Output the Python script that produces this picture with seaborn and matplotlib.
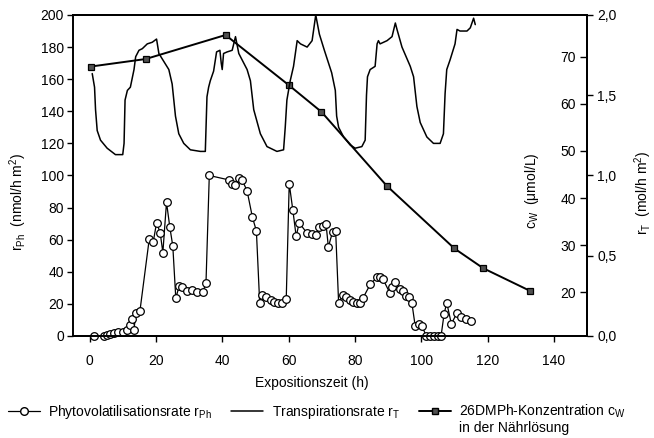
import matplotlib
matplotlib.use("Agg")
import seaborn as sns
import matplotlib.pyplot as plt
from matplotlib.lines import Line2D

# Phytovolatilisationsrate r_Ph (nmol/h m2)
t_ph = [1.2, 4.3, 5.3, 6.3, 7.3, 8.5, 10.0, 11.4, 12.1, 12.9, 13.4, 13.9, 15.2, 18.0, 19.2,
        20.2, 21.3, 22.1, 23.2, 24.2, 25.1, 26.0, 27.0, 28.0, 29.3, 30.9, 32.4, 34.1, 35.1,
        36.1, 42.1, 43.0, 44.0, 45.0, 46.0, 47.5, 49.1, 50.3, 51.3, 52.0, 53.2, 54.6, 55.7,
        56.8, 58.0, 59.3, 60.2, 61.3, 62.3, 63.2, 65.6, 67.0, 68.4, 69.2, 70.3, 71.3, 72.0,
        73.3, 74.2, 75.1, 76.3, 77.4, 78.4, 79.4, 80.6, 81.6, 82.4, 84.7, 86.7, 87.5, 88.5,
        90.5, 91.2, 92.2, 93.5, 94.6, 95.5, 96.4, 97.2, 98.2, 99.2, 100.2, 101.5, 102.7,
        103.9, 105.0, 106.0, 106.9, 107.7, 109.1, 110.7, 112.0, 113.6, 115.1]
r_ph = [0.3, 0.0, 0.8, 1.5, 2.0, 2.2, 2.5, 4.0, 7.0, 10.5, 3.5, 14.5, 15.8, 60.5, 58.5,
        70.6, 64.2, 52.0, 83.3, 67.8, 56.0, 23.5, 31.0, 30.3, 28.3, 28.8, 27.6, 27.2, 32.8,
        100.0, 97.2, 94.5, 94.0, 98.3, 97.2, 90.4, 74.0, 65.5, 20.4, 25.5, 24.5, 22.4, 21.4,
        20.4, 20.4, 22.9, 95.0, 78.3, 62.0, 70.5, 64.0, 63.5, 63.0, 67.7, 68.5, 69.8, 55.5,
        65.0, 65.6, 20.4, 25.3, 24.5, 22.4, 21.0, 20.7, 20.4, 23.5, 32.4, 36.6, 36.9, 35.3,
        27.0, 30.3, 33.4, 29.5, 27.8, 25.0, 24.3, 20.4, 6.0, 7.7, 6.2, 0.2, 0.2,
        0.2, 0.2, 0.2, 13.7, 20.7, 7.5, 14.1, 12.0, 10.4, 9.5]

# Transpirationsrate r_T (mol/h m2)
t_tr = [0.8, 1.5, 1.8, 2.3, 3.3, 5.3, 7.8, 10.0, 10.4, 10.7, 11.4, 12.3, 13.4, 13.9, 14.9,
        15.9, 17.4, 18.9, 20.2, 20.9, 22.4, 23.9, 24.9, 25.4, 25.9, 26.9, 28.4, 30.4, 33.4,
        34.9, 35.4, 35.9, 36.4, 37.4, 38.3, 39.3, 39.7, 40.0, 40.4, 41.5, 43.0, 44.0, 45.0,
        47.5, 48.5, 49.0, 49.5, 51.5, 53.5, 56.5, 58.5, 59.0, 59.5, 60.5, 61.5, 62.6, 63.6,
        65.6, 67.1, 68.2, 69.3, 70.8, 73.0, 74.1, 74.5, 75.1, 76.6, 78.6, 80.1, 82.1, 83.1,
        83.5, 83.8, 84.6, 86.1, 86.7, 87.1, 87.6, 89.7, 91.2, 92.2, 92.7, 94.2, 96.7, 97.7,
        98.7, 99.7, 101.7, 103.7, 105.7, 106.7, 107.2, 107.7, 108.7, 110.2, 110.8, 111.7,
        113.8, 114.8, 115.8, 116.3]
r_tr = [1.635, 1.55, 1.41, 1.28, 1.22, 1.17, 1.13, 1.13, 1.20, 1.47, 1.53, 1.55, 1.66, 1.74,
        1.78, 1.79, 1.82, 1.83, 1.85, 1.76, 1.71, 1.66, 1.57, 1.47, 1.37, 1.26, 1.20, 1.16,
        1.15, 1.15, 1.49, 1.55, 1.59, 1.65, 1.77, 1.78, 1.70, 1.66, 1.76, 1.77, 1.78, 1.865,
        1.76, 1.66, 1.59, 1.50, 1.41, 1.26, 1.18, 1.15, 1.16, 1.30, 1.47, 1.59, 1.68, 1.84,
        1.82, 1.80, 1.84, 2.00, 1.88, 1.78, 1.64, 1.53, 1.37, 1.30, 1.24, 1.19, 1.17, 1.18,
        1.22, 1.50, 1.615, 1.66, 1.68, 1.82, 1.84, 1.82, 1.84, 1.865, 1.95, 1.91, 1.80, 1.68,
        1.615, 1.43, 1.33, 1.24, 1.20, 1.20, 1.26, 1.51, 1.66, 1.72, 1.82, 1.91, 1.90, 1.90,
        1.92, 1.98, 1.94]

# 26DMPh-Konzentration c_W in der Naehrloesung (umol/L)
t_cw = [0.3, 16.9, 41.0, 60.0, 69.9, 89.6, 110.0, 118.7, 132.8]
c_w = [67.9, 69.5, 74.6, 64.0, 58.3, 42.6, 29.3, 25.1, 20.3]

x_ticks = [0, 20, 40, 60, 80, 100, 120, 140]
ph_ticks = list(range(0, 201, 20))
cw_ticks = [20, 30, 40, 50, 60, 70]
rt_ticks = [0.0, 0.5, 1.0, 1.5, 2.0]
rt_labels = ["0,0", "0,5", "1,0", "1,5", "2,0"]

sns.set_style("ticks")
plt.rcParams["font.family"] = ["Liberation Sans", "DejaVu Sans"]
plt.rcParams["mathtext.fontset"] = "custom"
plt.rcParams["mathtext.rm"] = "Liberation Sans"
plt.rcParams["mathtext.it"] = "Liberation Sans:italic"
plt.rcParams["axes.edgecolor"] = "black"
plt.rcParams["axes.linewidth"] = 1.2
plt.rcParams["xtick.color"] = "black"
plt.rcParams["ytick.color"] = "black"
plt.rcParams["text.color"] = "black"
plt.rcParams["axes.labelcolor"] = "black"
fs = 10

fig, ax = plt.subplots(figsize=(6.54, 4.38), dpi=100)
fig.subplots_adjust(left=0.1116, right=0.8976, top=0.9658, bottom=0.2329)
ax_c = ax.twinx()
ax_t = ax.twinx()

# r_Ph on left axis
sns.lineplot(x=t_ph, y=r_ph, ax=ax, color="black", lw=0.9, marker="o", markersize=5.5,
             markerfacecolor="white", markeredgecolor="black", markeredgewidth=0.9,
             estimator=None, sort=False, clip_on=False, zorder=3)
ax.set_xlim(-5, 150)
ax.set_ylim(0, 200)
ax.set_xticks(x_ticks)
ax.set_yticks(ph_ticks)
ax.tick_params(axis="both", labelsize=fs, direction="out", length=4, width=1)
ax.tick_params(axis="x", pad=9)
ax.tick_params(axis="y", pad=2.5)
ax.set_xlabel("Expositionszeit (h)", fontsize=fs)
ax.xaxis.set_label_coords(0.465, -0.125)
ax.set_ylabel(r"$\mathrm{r}_{\mathrm{Ph}}$  (nmol/h m$^{2}$)", fontsize=fs)
ax.yaxis.set_label_coords(-0.085, 0.417)

# transpiration on outer right axis
sns.lineplot(x=t_tr, y=r_tr, ax=ax_t, color="black", lw=1.1, estimator=None, sort=False)
ax_t.set_ylim(0, 2.0)
ax_t.set_yticks(rt_ticks)
ax_t.set_yticklabels(rt_labels)
ax_t.tick_params(axis="y", labelsize=fs, direction="out", length=4, width=1, pad=3.5)
ax_t.set_ylabel(r"$\mathrm{r}_{\mathrm{T}}$  (mol/h m$^{2}$)", fontsize=fs)
ax_t.yaxis.set_label_coords(1.088, 0.445)

# concentration on inner right axis (ticks pointing into the plot)
sns.lineplot(x=t_cw, y=c_w, ax=ax_c, color="black", lw=1.4, marker="s", markersize=5,
             markerfacecolor="#505050", markeredgecolor="black", markeredgewidth=0.9,
             estimator=None, sort=False, zorder=4)
ax_c.set_ylim(10.72, 78.85)
ax_c.spines["left"].set_position(("axes", 1.0))
ax_c.yaxis.set_ticks_position("left")
ax_c.yaxis.set_label_position("left")
ax_c.set_yticks(cw_ticks)
ax_c.tick_params(axis="y", labelsize=fs, direction="out", length=5, width=1, pad=3)
ax_c.set_ylabel(r"$\mathrm{c}_{\mathrm{W}}$  ($\mathrm{\mu}$mol/L)", fontsize=fs)
ax_c.yaxis.set_label_coords(0.9105, 0.452)

for a in (ax, ax_c, ax_t):
    leg = a.get_legend()
    if leg is not None:
        leg.remove()

handles = [
    Line2D([], [], color="black", lw=0.9, marker="o", markersize=5.5, markerfacecolor="white",
           markeredgecolor="black"),
    Line2D([], [], color="black", lw=1.1),
    Line2D([], [], color="black", lw=1.4, marker="s", markersize=5, markerfacecolor="#505050",
           markeredgecolor="black"),
]
labels = [r"Phytovolatilisationsrate $\mathrm{r}_{\mathrm{Ph}}$",
          r"Transpirationsrate $\mathrm{r}_{\mathrm{T}}$",
          r"26DMPh-Konzentration $\mathrm{c}_{\mathrm{W}}$"]
leg = fig.legend(handles, labels, loc="upper left", bbox_to_anchor=(0.012, 1 - 403 / 438),
                 ncol=3, frameon=False, fontsize=fs, handlelength=2.3, handletextpad=0.6,
                 columnspacing=1.4, borderpad=0, borderaxespad=0)

fig.canvas.draw()
bb = leg.get_texts()[2].get_window_extent()
fig.text(bb.x0 / fig.bbox.width, 1 - 428 / 438, "in der Nährlösung", fontsize=fs,
         ha="left", va="center")

fig.savefig("out.png", dpi=100)
